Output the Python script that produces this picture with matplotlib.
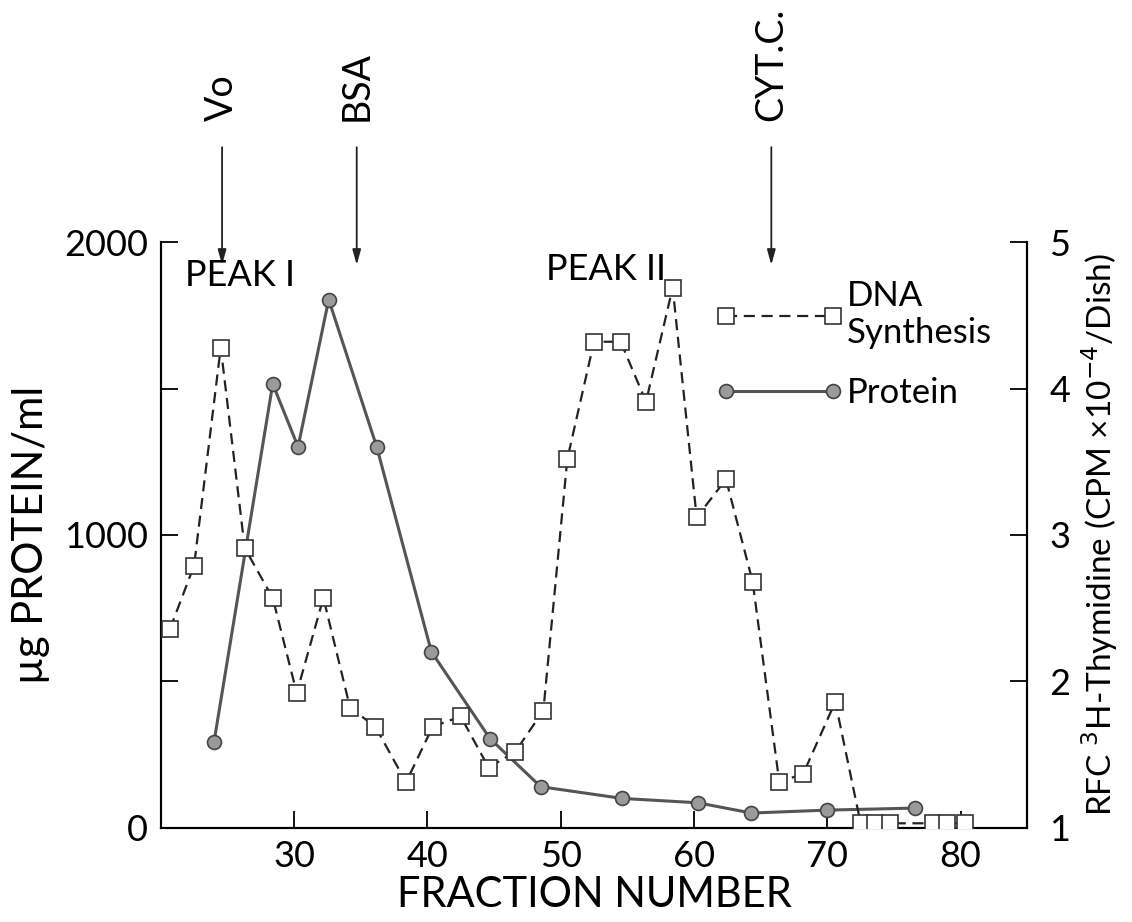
import matplotlib.pyplot as plt
from matplotlib.lines import Line2D

plt.rcParams['font.family'] = ['Lato', 'DejaVu Sans']

# protein (left axis, ug/ml)
protein_frac = [24.0, 28.4, 30.3, 32.6, 36.2, 40.3, 44.7, 48.5, 54.6, 60.3, 64.3, 70.0, 76.6]
protein_ug = [294, 1516, 1301, 1804, 1301, 601, 304, 140, 100, 85, 50, 60, 67]

# DNA synthesis (right axis, CPM x10^-4 / dish)
dna_frac = [20.7, 22.5, 24.5, 26.3, 28.4, 30.2, 32.2, 34.2, 36.1, 38.4, 40.4,
            42.5, 44.6, 46.6, 48.7, 50.5, 52.5, 54.5, 56.4, 58.4, 60.2, 62.4,
            64.4, 66.4, 68.2, 70.6, 72.5, 73.6, 74.7, 77.9, 79.0, 80.3]
dna_cpm = [2.36, 2.79, 4.28, 2.91, 2.57, 1.92, 2.57, 1.82, 1.69, 1.31, 1.69,
           1.76, 1.41, 1.52, 1.80, 3.52, 4.32, 4.32, 3.91, 4.69, 3.12, 3.38,
           2.68, 1.31, 1.37, 1.86, 1.03, 1.03, 1.03, 1.03, 1.03, 1.03]

# calibration markers
std_names = ['Vo', 'BSA', 'CYT.C.']
std_frac = [24.6, 34.7, 65.8]

peak_names = ['PEAK I', 'PEAK II']
peak_frac = [21.8, 48.9]
peak_ug = [1886, 1906]

fig = plt.figure(figsize=(11.32, 9.22), dpi=100)
ax = fig.add_axes([0.142, 0.1023, 0.7655, 0.635])
ax2 = ax.twinx()

ax.plot(protein_frac, protein_ug, color='#555555', lw=2.2,
        marker='o', ms=10, mfc='#9a9a9a', mec='#444444', mew=1.2, zorder=3)
ax2.plot(dna_frac, dna_cpm, color='#222222', lw=1.6, ls=(0, (5, 3)),
         marker='s', ms=12, mfc='white', mec='#333333', mew=1.2, zorder=3)

ax.set_xlim(20, 85)
ax.set_ylim(0, 2000)
ax2.set_ylim(1, 5)

ax.set_xticks([30, 40, 50, 60, 70, 80])
ax.set_yticks([0, 500, 1000, 1500, 2000])
ax.set_yticklabels(['0', '', '1000', '', '2000'])
ax2.set_yticks([1, 2, 3, 4, 5])

for a in (ax, ax2):
    a.spines['top'].set_visible(False)
    for s in a.spines.values():
        s.set_linewidth(1.5)
ax.tick_params(axis='both', direction='in', length=12, width=1.3, labelsize=26, pad=9)
ax2.tick_params(axis='y', direction='in', length=12, width=1.3, labelsize=26, pad=16)

ax.set_xlabel('FRACTION NUMBER', fontsize=30, labelpad=2)
ax.set_ylabel('\u00b5g PROTEIN/ml', fontsize=30, labelpad=10)
ax2.set_ylabel('RFC $^3$H-Thymidine (CPM \u00d710$^{-4}$/Dish)', fontsize=24, labelpad=6)

for name, f in zip(std_names, std_frac):
    ax.annotate('', xy=(f, 1913), xytext=(f, 2334),
                arrowprops=dict(arrowstyle='-|>,head_length=0.9,head_width=0.25',
                                color='#222222', lw=1.3),
                annotation_clip=False)
    ax.text(f, 2413, name, rotation=90, ha='center', va='bottom',
            fontsize=27, clip_on=False)

for name, f, y in zip(peak_names, peak_frac, peak_ug):
    ax.text(f, y, name, ha='left', va='center', fontsize=26)

handles = [
    Line2D([], [], color='#222222', lw=1.6, ls=(0, (5, 3)), marker='s', ms=12,
           mfc='white', mec='#333333', mew=1.2),
    Line2D([], [], color='#555555', lw=2.2, marker='o', ms=10,
           mfc='#9a9a9a', mec='#444444', mew=1.2),
]
ax2.legend(handles, ['DNA\nSynthesis', 'Protein'], numpoints=2, frameon=False,
           fontsize=25, handlelength=3.7, handletextpad=0.1, labelspacing=0.8,
           borderpad=0, borderaxespad=0, loc='upper left',
           bbox_to_anchor=(61.6, 4.74), bbox_transform=ax2.transData)

fig.savefig('out.png', dpi=100)
